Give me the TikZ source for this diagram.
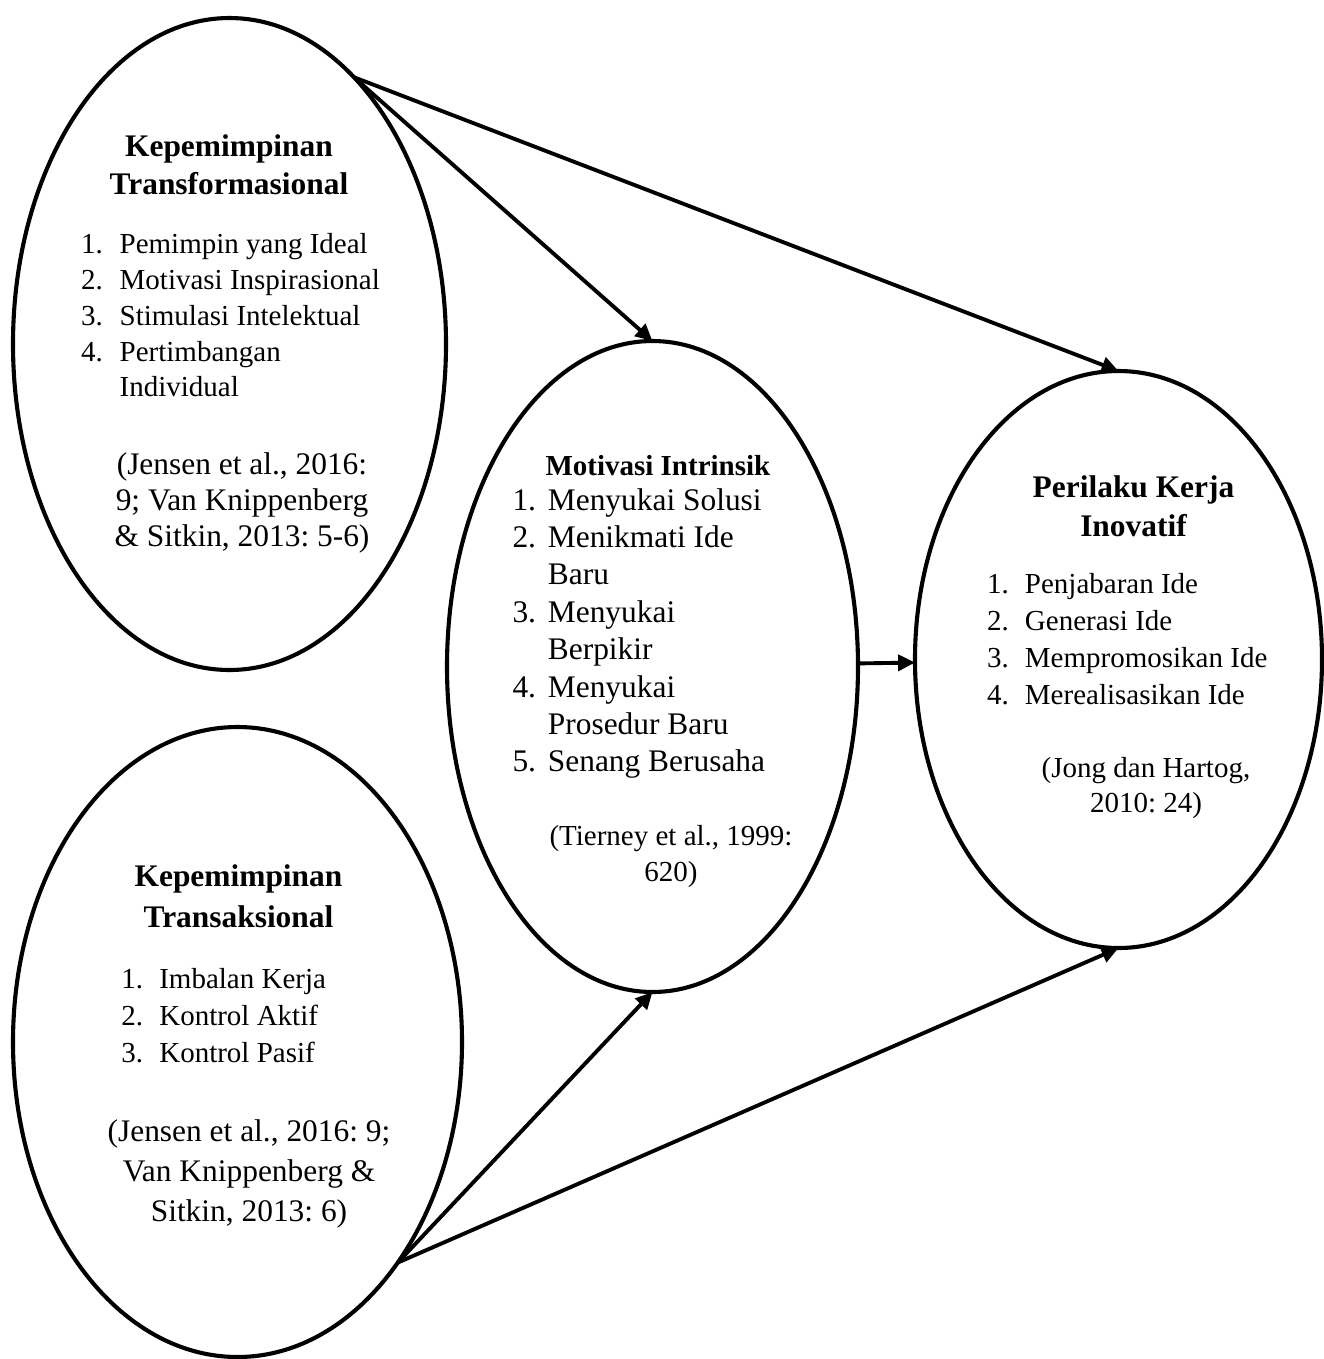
\documentclass[tikz,border=0pt]{standalone}
\usepackage{fontspec}
\setmainfont{Liberation Serif}
\usetikzlibrary{shapes.geometric}
\usetikzlibrary{arrows.meta}
\newlength{\px}
\setlength{\px}{0.41379pt}
\frenchspacing

\begin{document}
\begin{tikzpicture}[x=\px, y=-\px,
		variabel/.style={draw, ellipse, line width=1.7pt, inner sep=0pt, outer sep=0pt},
		panah/.style={-{Triangle[length=7pt, width=6.6pt]}, line width=1.6pt},
		teks/.style={inner sep=0pt, outer sep=0pt}]
			\useasboundingbox (0,0) rectangle (1323,1359);
			% ellipses
			\node[variabel, minimum width=433\px, minimum height=652\px] (transformasional) at (229.5,344) {};
			\node[variabel, minimum width=449\px, minimum height=630\px] (transaksional) at (237.5,1042) {};
			\node[variabel, minimum width=411\px, minimum height=651\px] (intrinsik) at (652.5,666.5) {};
			\node[variabel, minimum width=407\px, minimum height=577\px] (inovatif) at (1118.5,659.5) {};
			% kepemimpinan transformasional
			\node[teks, anchor=base, font=\bfseries\fontsize{13}{16.1}\selectfont] (judulA) at (229,156) {\begin{tabular}[t]{@{}c@{}}Kepemimpinan\\Transformasional\end{tabular}};
			\node[teks, anchor=base west, font=\fontsize{12}{14.83}\selectfont] (dimensiA) at (81,253.6) {\begin{tabular}[t]{@{}l@{\hspace{7pt}}l@{}}1.&Pemimpin yang Ideal\\2.&Motivasi Inspirasional\\3.&Stimulasi Intelektual\\4.&Pertimbangan\\&Individual\end{tabular}};
			\node[teks, anchor=base, font=\fontsize{13}{15.1}\selectfont] (sumberA) at (242,474) {\begin{tabular}[t]{@{}c@{}}(Jensen et al., 2016:\\9; Van Knippenberg\\\& Sitkin, 2013: 5-6)\end{tabular}};
			% kepemimpinan transaksional
			\node[teks, anchor=base, font=\bfseries\fontsize{13}{17}\selectfont] (judulB) at (238.5,886) {\begin{tabular}[t]{@{}c@{}}Kepemimpinan\\Transaksional\end{tabular}};
			\node[teks, anchor=base west, font=\fontsize{12}{15.5}\selectfont] (dimensiB) at (121.4,988) {\begin{tabular}[t]{@{}l@{\hspace{6.7pt}}l@{}}1.&Imbalan Kerja\\2.&Kontrol Aktif\\3.&Kontrol Pasif\end{tabular}};
			\node[teks, anchor=base, font=\fontsize{13}{16.65}\selectfont] (sumberB) at (249,1141) {\begin{tabular}[t]{@{}c@{}}(Jensen et al., 2016: 9;\\Van Knippenberg \&\\Sitkin, 2013: 6)\end{tabular}};
			% motivasi intrinsik
			\node[teks, anchor=base west, font=\bfseries\fontsize{12}{14.5}\selectfont] (judulC) at (545.5,475) {Motivasi Intrinsik};
			\node[teks, anchor=base west, font=\fontsize{13}{15.48}\selectfont] (dimensiC) at (512.5,510) {\begin{tabular}[t]{@{}l@{\hspace{4.9pt}}l@{}}1.&Menyukai Solusi\\2.&Menikmati Ide\\&Baru\\3.&Menyukai\\&Berpikir\\4.&Menyukai\\&Prosedur Baru\\5.&Senang Berusaha\end{tabular}};
			\node[teks, anchor=base, font=\fontsize{12}{14.9}\selectfont] (sumberC) at (671,845) {\begin{tabular}[t]{@{}c@{}}(Tierney et al., 1999:\\620)\end{tabular}};
			% perilaku kerja inovatif
			\node[teks, anchor=base, font=\bfseries\fontsize{13}{16.2}\selectfont] (judulD) at (1133.5,497.4) {\begin{tabular}[t]{@{}c@{}}Perilaku Kerja\\Inovatif\end{tabular}};
			\node[teks, anchor=base west, font=\fontsize{12}{15.2}\selectfont] (dimensiD) at (987,593.8) {\begin{tabular}[t]{@{}l@{\hspace{6.7pt}}l@{}}1.&Penjabaran Ide\\2.&Generasi Ide\\3.&Mempromosikan Ide\\4.&Merealisasikan Ide\end{tabular}};
			\node[teks, anchor=base, font=\fontsize{12}{14.3}\selectfont] (sumberD) at (1146,777.5) {\begin{tabular}[t]{@{}c@{}}(Jong dan Hartog,\\2010: 24)\end{tabular}};
			% arrows
			\draw[panah] (transformasional.65) -- (intrinsik.north);
			\draw[panah] (transformasional.65) -- (inovatif.north);
			\draw[panah] (intrinsik) -- (inovatif);
			\draw[panah] (transaksional.-54) -- (intrinsik.south);
			\draw[panah] (transaksional.-54) -- (inovatif.south);
		\end{tikzpicture}
\end{document}
